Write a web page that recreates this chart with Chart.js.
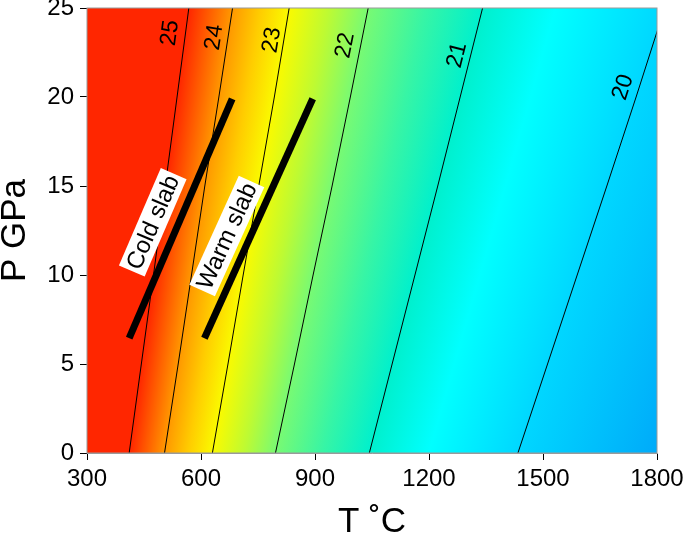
<!DOCTYPE html>
<html>
<head>
<meta charset="utf-8">
<script src="https://cdn.jsdelivr.net/npm/chart.js@4.4.0/dist/chart.umd.min.js"></script>
<style>
  html, body { margin: 0; padding: 0; background: #fff; }
</style>
</head>
<body>
<canvas id="chart" width="685" height="538"></canvas>
<script>
// pressures (GPa) at which each contour is sampled
const pressures = [0, 5, 10, 15, 20, 25];

// contour temperatures (deg C), one per pressure
const t25 = [411, 443, 475, 506, 537, 568];
const t24 = [504, 540, 575, 610, 647, 683];
const t23 = [630, 671, 711, 752, 793, 832];
const t22 = [796, 846, 895, 945, 993, 1040];
const t21 = [1043, 1103, 1163, 1223, 1282, 1341];
const t20 = [1434, 1512, 1590, 1668, 1745, 1820];
const t19 = [1884, 1983, 2082, 2181, 2280, 2380]; // off the plot, only for the colour fill

const contourNames = ['25', '24', '23', '22', '21', '20'];
const labelT = [519, 635, 787, 980, 1274, 1711];
const labelP = [23.6, 23.35, 23.2, 22.9, 22.35, 20.55];

// slab paths
const slabNames = ['Cold slab', 'Warm slab'];
const coldSlabT = [411, 682];
const coldSlabP = [6.45, 19.9];
const warmSlabT = [609, 894];
const warmSlabP = [6.45, 19.9];
const slabLabelT = [473, 668];
const slabLabelP = [12.96, 12.19];

// colour scale
const colorValues = [25, 24.5, 24, 23.5, 23, 22.5, 22, 21.5, 21, 20.6, 20, 19];
const colorRGB = [
  [255, 38, 0], [255, 95, 0], [255, 152, 0], [255, 205, 0], [250, 250, 0],
  [190, 250, 50], [120, 250, 115], [55, 245, 165], [0, 240, 205], [0, 255, 255],
  [0, 215, 255], [0, 160, 248]
];

const FONT = "'Liberation Sans', Arial, sans-serif";
const lineLevels = [25, 24, 23, 22, 21, 20, 19];
const lineTemps = [t25, t24, t23, t22, t21, t20, t19];

function tempAt(t, p) {
  let i = 0;
  while (i < pressures.length - 2 && p > pressures[i + 1]) i++;
  const f = (p - pressures[i]) / (pressures[i + 1] - pressures[i]);
  return t[i] + f * (t[i + 1] - t[i]);
}

const rgb = c => 'rgb(' + c.join(',') + ')';

const fillPlugin = {
  id: 'fill',
  beforeDatasetsDraw(chart) {
    const { ctx, chartArea: a, scales: { x, y } } = chart;
    ctx.save();
    ctx.beginPath();
    ctx.rect(a.left, a.top, a.right - a.left, a.bottom - a.top);
    ctx.clip();
    for (let py = Math.floor(a.top); py < a.bottom; py++) {
      const p = y.getValueForPixel(py + 0.5);
      const xs = lineTemps.map(t => x.getPixelForValue(tempAt(t, p)));
      const px = v => {
        let k = 0;
        while (k < lineLevels.length - 2 && v < lineLevels[k + 1]) k++;
        const f = (lineLevels[k] - v) / (lineLevels[k] - lineLevels[k + 1]);
        return xs[k] + f * (xs[k + 1] - xs[k]);
      };
      const x0 = Math.min(a.left, xs[0]) - 1;
      const x1 = Math.max(a.right, xs[xs.length - 1]) + 1;
      const g = ctx.createLinearGradient(x0, 0, x1, 0);
      g.addColorStop(0, rgb(colorRGB[0]));
      colorValues.forEach((v, i) => {
        const o = (px(v) - x0) / (x1 - x0);
        g.addColorStop(Math.min(1, Math.max(0, o)), rgb(colorRGB[i]));
      });
      g.addColorStop(1, rgb(colorRGB[colorRGB.length - 1]));
      ctx.fillStyle = g;
      ctx.fillRect(a.left, py, a.right - a.left, 1);
    }
    ctx.restore();
  }
};

const labelPlugin = {
  id: 'labels',
  afterDatasetsDraw(chart) {
    const { ctx, chartArea: a, scales: { x, y } } = chart;
    ctx.save();
    // contour labels, turned along their line
    ctx.font = '23px ' + FONT;
    ctx.fillStyle = '#000';
    ctx.textAlign = 'center';
    ctx.textBaseline = 'middle';
    contourNames.forEach((name, i) => {
      const t = lineTemps[i];
      const p = labelP[i];
      const xa = x.getPixelForValue(tempAt(t, p - 1)), ya = y.getPixelForValue(p - 1);
      const xb = x.getPixelForValue(tempAt(t, p + 1)), yb = y.getPixelForValue(p + 1);
      const ang = Math.atan2(yb - ya, xb - xa);
      ctx.save();
      ctx.translate(x.getPixelForValue(labelT[i]), y.getPixelForValue(p));
      ctx.rotate(ang);
      ctx.fillText(name, 0, 0);
      ctx.restore();
    });

    // slab labels in white boxes
    ctx.font = '24px ' + FONT;
    const slabs = [[coldSlabT, coldSlabP], [warmSlabT, warmSlabP]];
    slabNames.forEach((name, i) => {
      const [st, sp] = slabs[i];
      const ang = Math.atan2(y.getPixelForValue(sp[1]) - y.getPixelForValue(sp[0]),
                             x.getPixelForValue(st[1]) - x.getPixelForValue(st[0]));
      const w = ctx.measureText(name).width + 6;
      const h = 28;
      ctx.save();
      ctx.translate(x.getPixelForValue(slabLabelT[i]), y.getPixelForValue(slabLabelP[i]));
      ctx.rotate(ang);
      ctx.fillStyle = '#fff';
      ctx.fillRect(-w / 2, -h / 2, w, h);
      ctx.fillStyle = '#000';
      ctx.fillText(name, 0, 1);
      ctx.restore();
    });

    // plot frame
    ctx.strokeStyle = '#9a9a9a';
    ctx.lineWidth = 1;
    ctx.strokeRect(a.left, a.top, a.right - a.left, a.bottom - a.top);
    ctx.restore();
  }
};

const toPoints = (ts, ps) => ts.map((t, i) => ({ x: t, y: ps[i] }));

const datasets = [t25, t24, t23, t22, t21, t20].map((t, i) => ({
  label: contourNames[i],
  data: toPoints(t, pressures),
  borderColor: '#000',
  borderWidth: 1,
  pointRadius: 0,
  showLine: true,
  tension: 0
}));

[[coldSlabT, coldSlabP], [warmSlabT, warmSlabP]].forEach(([st, sp], i) => {
  datasets.push({
    label: slabNames[i],
    data: toPoints(st, sp),
    borderColor: '#000',
    borderWidth: 7,
    borderCapStyle: 'butt',
    pointRadius: 0,
    showLine: true
  });
});

new Chart(document.getElementById('chart').getContext('2d'), {
  type: 'scatter',
  data: { datasets: datasets },
  plugins: [fillPlugin, labelPlugin],
  options: {
    responsive: false,
    animation: false,
    layout: { padding: { left: 0, right: 28, top: 8, bottom: 0 } },
    plugins: { legend: { display: false }, tooltip: { enabled: false } },
    scales: {
      x: {
        type: 'linear',
        min: 300,
        max: 1800,
        ticks: { stepSize: 300, color: '#000', font: { family: FONT, size: 24 }, padding: 5, maxRotation: 0,
                 callback: v => String(v) },
        grid: { drawOnChartArea: false, color: '#000', tickLength: 7 },
        border: { color: '#9a9a9a' },
        title: { display: true, text: 'T \u02DAC', color: '#000', font: { family: FONT, size: 35, lineHeight: 0.9 }, padding: 0 },
        afterFit: s => { s.height = 85; s.paddingLeft = 0; s.paddingRight = 0; }
      },
      y: {
        type: 'linear',
        min: 0,
        max: 25,
        ticks: { stepSize: 5, color: '#000', font: { family: FONT, size: 24 }, padding: 6,
                 callback: v => String(v) },
        grid: { drawOnChartArea: false, color: '#000', tickLength: 7 },
        border: { color: '#9a9a9a' },
        title: { display: true, text: 'P GPa', color: '#000', font: { family: FONT, size: 35, lineHeight: 0.9 }, padding: 0 },
        afterFit: s => { s.width = 87; s.paddingTop = 0; s.paddingBottom = 0; }
      }
    }
  }
});
</script>
</body>
</html>
